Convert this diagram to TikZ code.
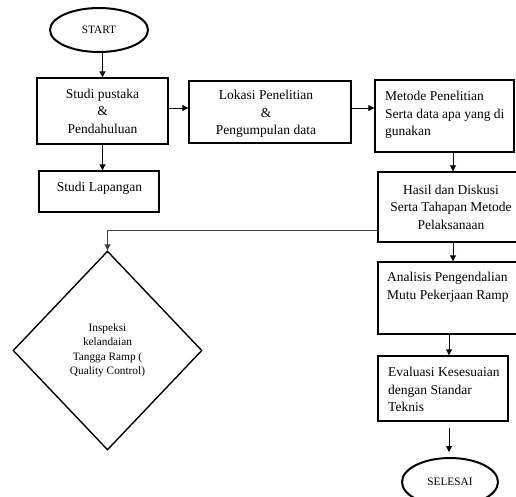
\documentclass[tikz,border=0pt]{standalone}
\usepackage{fontspec}
\setmainfont{Liberation Serif}
\usetikzlibrary{shapes.geometric,arrows.meta,calc}
\begin{document}
\begin{tikzpicture}[x=1pt,y=-1pt,
  box/.style={draw,line width=1.4pt,inner sep=0pt,font=\fontsize{13.5}{17.5}\selectfont,align=center},
  term/.style={draw,ellipse,line width=2pt,inner sep=0pt,font=\fontsize{11.3}{13}\selectfont},
  txt/.style={inner sep=0pt,font=\fontsize{13.5}{17.5}\selectfont,align=left,anchor=north west},
  arr/.style={line width=0.9pt,-{Triangle[length=6pt,width=6pt]}}]
\useasboundingbox (0,0) rectangle (516,496);
\clip (0,0) rectangle (516,496);
% terminals
\node[term,minimum width=98pt,minimum height=44pt] (start) at (99,30) {START};
\node[term,minimum width=96pt,minimum height=48pt] (selesai) at (450,482) {SELESAI};
% boxes
\node[box,minimum width=131pt,minimum height=66pt] (sp) at (102.5,111) {Studi pustaka\\\&\\Pendahuluan};
\node[box,minimum width=120pt,minimum height=41pt] (sl) at (99,191.5) {};
\node[inner sep=0pt,font=\fontsize{13.5}{17.5}\selectfont] (slt) at (99.5,188) {Studi Lapangan};
\node[box,minimum width=162pt,minimum height=62pt] (lok) at (270,112) {};
\node[inner sep=0pt,font=\fontsize{13.5}{17.5}\selectfont,align=center] (lokt) at (266,114) {Lokasi Penelitian\\\&\\Pengumpulan data};
\node[box,minimum width=139pt,minimum height=72pt] (met) at (444.5,116) {};
\node[txt] (mett) at (385,91) {Metode Penelitian\\Serta data apa yang di\\gunakan};
\node[box,minimum width=146pt,minimum height=70pt] (hasil) at (451,207) {Hasil dan Diskusi\\Serta Tahapan Metode\\Pelaksanaan};
\node[box,minimum width=146pt,minimum height=72pt] (ana) at (451,298) {};
\node[txt] (anat) at (387,272) {Analisis Pengendalian\\Mutu Pekerjaan Ramp};
\node[box,minimum width=130pt,minimum height=65pt] (eval) at (443,388.5) {};
\node[txt] (evalt) at (388,367) {Evaluasi Kesesuaian\\dengan Standar\\Teknis};
% decision
\node[draw,diamond,line width=1.4pt,inner sep=0pt,minimum width=189pt,minimum height=199pt,
  font=\fontsize{11.3}{14.5}\selectfont,align=center] (diam) at (107.5,350.5)
  {Inspeksi\\kelandaian\\Tangga Ramp (\\Quality Control)};
% connectors
\draw[arr] (start.south -| sp.north) -- (sp.north);
\draw[arr] (sp.south) -- (sp.south |- sl.north);
\draw[arr] (sp.east |- 0,108) -- (lok.west |- 0,108);
\draw[arr] (lok.east |- 0,108) -- (met.west |- 0,108);
\draw[arr] (met.south -| 453,0) -- (hasil.north -| 453,0);
\draw[arr] (hasil.south -| 453,0) -- (ana.north -| 453,0);
\draw[arr] (ana.south -| 449,0) -- (eval.north -| 449,0);
\draw[arr] ($(eval.south -| 449,0)+(0,6)$) -- ($(selesai.north -| 449,0)+(0,-5)$);
\draw[arr,draw=black!75] (hasil.west |- 0,230) -| (diam.north);
\end{tikzpicture}
\end{document}
